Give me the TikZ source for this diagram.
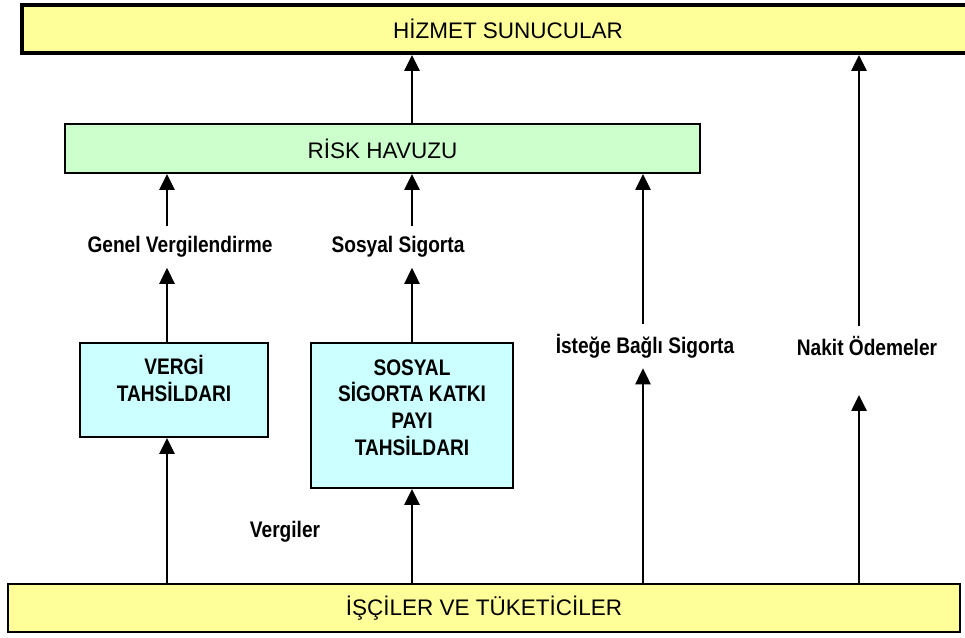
\documentclass[tikz,border=0pt]{standalone}
\usepackage{fontspec}
\setmainfont{Liberation Sans}
\newfontfamily\darfont[FakeStretch=0.85]{Liberation Sans}
\usetikzlibrary{arrows.meta}
\definecolor{sari}{HTML}{FFFF99}
\definecolor{yesil}{HTML}{CCFFCC}
\definecolor{mavi}{HTML}{CCFFFF}

\begin{document}
\begin{tikzpicture}[
  kutu/.style={draw, line width=1.4pt, minimum height=1.2cm, inner sep=0pt,
    font=\fontsize{16}{19.2}\selectfont},
  etiket/.style={font=\darfont\bfseries\fontsize{16}{19.2}\selectfont,
    inner xsep=2pt, inner ysep=0.25cm, align=center},
  ok/.style={line width=1.4pt, -{Triangle[width=0.38cm,length=0.4cm]}}
]
\useasboundingbox (0,0) rectangle (24.125,15.925);

\node[kutu, fill=sari, line width=2.8pt, minimum width=24.3cm] (hizmet) at (12.7,15.2) {HİZMET SUNUCULAR};
\node[kutu, fill=yesil, minimum width=15.875cm, minimum height=1.225cm] (risk) at (9.5625,12.2125) {RİSK HAVUZU};
\node[kutu, fill=mavi, minimum width=4.7cm, minimum height=2.35cm] (vergi) at (4.35,6.175) {};
\node[kutu, fill=mavi, minimum width=5.05cm, minimum height=3.625cm] (sosyal) at (10.3,5.5375) {};
\node[kutu, fill=sari, minimum width=23.8cm] (isci) at (12.1,0.725) {İŞÇİLER VE TÜKETİCİLER};

\node[etiket, anchor=north, inner ysep=0pt] (vergiyazi) at ([yshift=-0.315cm]vergi.north) {VERGİ\\TAHSİLDARI};
\node[etiket, anchor=north, inner ysep=0pt] (sosyalyazi) at ([yshift=-0.425cm]sosyal.north) {SOSYAL\\SİGORTA KATKI\\PAYI\\TAHSİLDARI};

\node[etiket] (genel) at (4.5,9.75) {Genel Vergilendirme};
\node[etiket] (sigorta) at (9.95,9.75) {Sosyal Sigorta};
\node[etiket] (istege) at (16.125,7.275) {İsteğe Bağlı Sigorta};
\node[etiket] (nakit) at (21.675,7.275) {Nakit Ödemeler};
\node[etiket] (vergiler) at (7.125,2.625) {Vergiler};

\coordinate (k1) at (4.175,0);
\coordinate (k2) at (10.3,0);
\coordinate (k3) at (16.075,0);
\coordinate (k4) at (21.475,0);
\coordinate (nakitok) at (21.475,6.05);

\draw[ok] (isci.north -| k1) -- (vergi.south -| k1);
\draw[ok] (vergi.north -| k1) -- (genel.south -| k1);
\draw[ok] (genel.north -| k1) -- (risk.south -| k1);

\draw[ok] (isci.north -| k2) -- (sosyal.south -| k2);
\draw[ok] (sosyal.north -| k2) -- (sigorta.south -| k2);
\draw[ok] (sigorta.north -| k2) -- (risk.south -| k2);
\draw[ok] (risk.north -| k2) -- (hizmet.south -| k2);

\draw[ok] (isci.north -| k3) -- (istege.south -| k3);
\draw[ok] (istege.north -| k3) -- (risk.south -| k3);

\draw[ok] (isci.north -| k4) -- (nakitok);
\draw[ok] (nakit.north -| k4) -- (hizmet.south -| k4);
\end{tikzpicture}
\end{document}
